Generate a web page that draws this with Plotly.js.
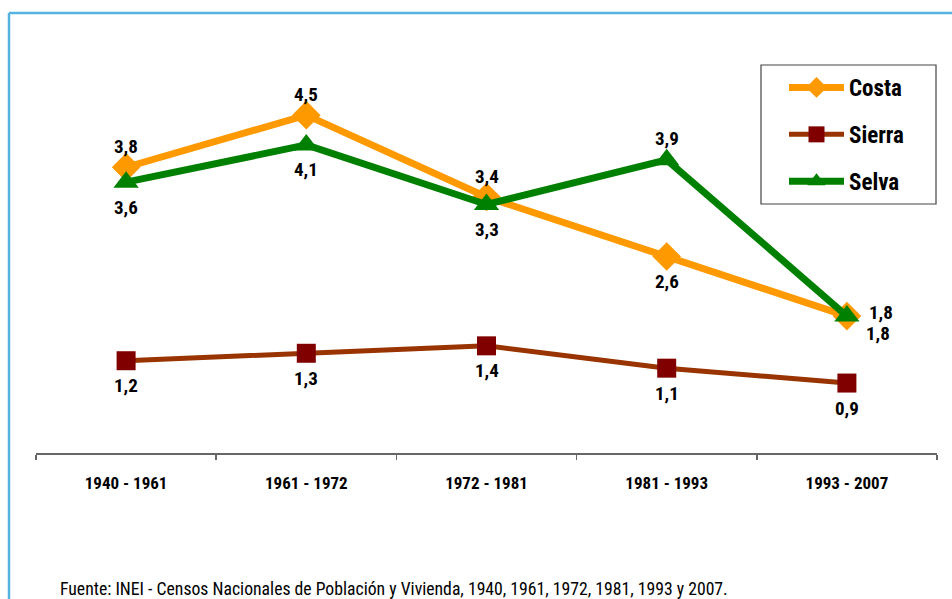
<!DOCTYPE html>
<html>
<head>
<meta charset="utf-8">
<script src="https://cdn.plot.ly/plotly-3.0.1.min.js"></script>
<style>
html,body{margin:0;padding:0;background:#fff;}
#chart{width:952px;height:599px;}
</style>
</head>
<body>
<div id="chart"></div>
<script>
// ---- data ----
const periods = ["1940 - 1961", "1961 - 1972", "1972 - 1981", "1981 - 1993", "1993 - 2007"];
const costa  = [3.8, 4.5, 3.4, 2.6, 1.8];
const sierra = [1.2, 1.3, 1.4, 1.1, 0.9];
const selva  = [3.6, 4.1, 3.3, 3.9, 1.8];
const seriesNames = ["Costa", "Sierra", "Selva"];
const sourceNote = "Fuente: INEI - Censos Nacionales de Población y Vivienda, 1940, 1961, 1972, 1981, 1993 y 2007.";

// ---- label placement (style, not data) ----
const costaPlace  = ["above", "above", "above", "below", "right"];
const sierraPlace = ["below", "below", "below", "below", "below"];
const selvaPlace  = ["below", "below", "below", "above", "belowright"];
const placeOffset = {above: [0, 21], below: [0, -25], right: [34, 4], belowright: [31, -17]};

// ---- styling ----
const FONT = "'Roboto Condensed', 'Liberation Sans Narrow', 'Arial Narrow', 'Liberation Sans', Arial, sans-serif";
const fmt = v => v.toFixed(1).replace(".", ",");

// plot area pixel geometry
const PL = 36, PR = 937, PT = 40, PB = 453, W = 952, H = 599;
const px = x => (x - PL) / (PR - PL);
const py = y => (PB - y) / (PB - PT);

const labelFont = {family: FONT, size: 19, color: "#000", weight: "bold"};

const traces = [
  {
    name: seriesNames[0], x: periods, y: costa, type: "scatter", mode: "lines+markers",
    line: {color: "#FF9900", width: 7},
    marker: {symbol: "diamond", size: 22, color: "#FF9900"},
    legendgroup: "a", cliponaxis: false
  },
  {
    name: seriesNames[1], x: periods, y: sierra, type: "scatter", mode: "lines+markers",
    line: {color: "#993300", width: 5},
    marker: {symbol: "square", size: 19, color: "#800000"},
    legendgroup: "b", cliponaxis: false
  },
  {
    name: seriesNames[2], x: periods, y: selva, type: "scatter", mode: "lines+markers",
    line: {color: "#008000", width: 7},
    marker: {symbol: "triangle-up", size: 22, color: "#008000"},
    legendgroup: "c", cliponaxis: false
  }
];

function labels(values, places) {
  return values.map((v, i) => {
    const off = placeOffset[places[i]];
    return {
      xref: "x", yref: "y", x: periods[i], y: v, text: fmt(v), showarrow: false,
      xanchor: "center", yanchor: "middle", xshift: off[0], yshift: off[1],
      font: labelFont
    };
  });
}

const layout = {
  width: W, height: H,
  margin: {l: PL, r: W - PR, t: PT, b: H - PB, pad: 0},
  paper_bgcolor: "#fff", plot_bgcolor: "#fff",
  font: {family: FONT, color: "#000"},
  showlegend: true,
  legend: {
    x: px(784), y: py(66), xanchor: "left", yanchor: "top",
    bgcolor: "rgba(0,0,0,0)", borderwidth: 0,
    font: {family: FONT, size: 23, color: "#000", weight: "bold"},
    traceorder: "grouped", tracegroupgap: 14, itemwidth: 55
  },
  xaxis: {
    type: "category", range: [-0.5, 4.5], fixedrange: true,
    showline: true, linecolor: "#666", linewidth: 1.5,
    ticks: "outside", tickson: "boundaries", ticklen: 5, tickcolor: "#666", tickwidth: 1.5,
    showgrid: false, zeroline: false,
    tickfont: {family: FONT, size: 17, color: "#000", weight: "bold"},
    ticklabelstandoff: 14
  },
  yaxis: {
    range: [-0.04, 5.51], visible: false, showgrid: false, zeroline: false, fixedrange: true
  },
  shapes: [
    {type: "line", xref: "paper", yref: "paper", x0: px(9), x1: px(960), y0: py(13), y1: py(13), line: {color: "#55B3E0", width: 2.5}},
    {type: "line", xref: "paper", yref: "paper", x0: px(9), x1: px(9), y0: py(13), y1: py(610), line: {color: "#55B3E0", width: 2.5}},
    {type: "rect", xref: "paper", yref: "paper", x0: px(761), x1: px(936), y0: py(204), y1: py(65), line: {color: "#444", width: 1.2}, fillcolor: "rgba(0,0,0,0)"}
  ],
  annotations: [
    ...labels(costa, costaPlace),
    ...labels(sierra, sierraPlace),
    ...labels(selva, selvaPlace),
    {xref: "paper", yref: "paper", x: px(58), y: py(589), xanchor: "left", yanchor: "middle",
     text: sourceNote, showarrow: false, font: {family: FONT, size: 17.7, color: "#000"}}
  ]
};

Plotly.newPlot("chart", traces, layout, {displayModeBar: false, staticPlot: true});
</script>
</body>
</html>
